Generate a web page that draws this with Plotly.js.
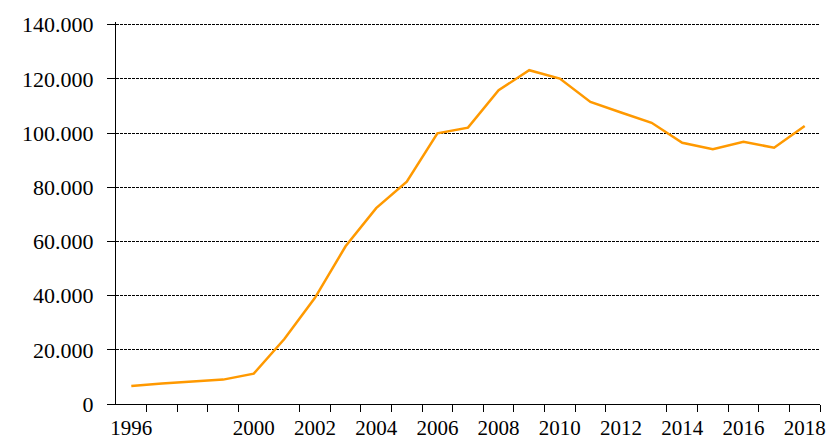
<!DOCTYPE html>
<html>
<head>
<meta charset="utf-8">
<script src="https://cdn.plot.ly/plotly-3.0.1.min.js"></script>
<style>html,body{margin:0;padding:0;background:#fff;}#chart{width:829px;height:441px;}</style>
</head>
<body>
<div id="chart"></div>
<script>
var years = [1996,1997,1998,1999,2000,2001,2002,2003,2004,2005,2006,2007,2008,2009,2010,2011,2012,2013,2014,2015,2016,2017,2018];
var values = [6600,7600,8300,9000,11200,24000,39200,58200,72300,82100,99900,102000,115800,123200,120100,111500,107600,103800,96400,94000,96800,94600,102600];
var labelYears = [1996,2000,2002,2004,2006,2008,2010,2012,2014,2016,2018];
var tickMarks = [1996.5,1997.5,1998.5,1999.5,2001.5,2002.5,2003.5,2004.5,2005.5,2006.5,2007.5,2008.5,2009.5,2010.5,2011.5,2013.5,2014.5,2015.5,2016.5,2017.5,2018.5];
var yTicks = [0,20000,40000,60000,80000,100000,120000,140000];

var trace = {
  x: years, y: values, type: 'scatter', mode: 'lines',
  line: {color: '#FF9900', width: 2.5},
  hoverinfo: 'skip'
};
// invisible helper trace so the tick-mark axis is drawn
var helper = {
  x: [1995.5, 2018.5], y: [null, null], xaxis: 'x2', yaxis: 'y',
  type: 'scatter', mode: 'lines', hoverinfo: 'skip', showlegend: false
};

var layout = {
  width: 829, height: 441,
  margin: {l: 116, r: 9, t: 22, b: 36.5},
  paper_bgcolor: '#fff', plot_bgcolor: '#fff',
  separators: ',.',
  showlegend: false,
  font: {family: 'Liberation Serif, Times New Roman, serif', color: '#000', size: 20},
  xaxis: {
    range: [1995.5, 2018.5],
    tickmode: 'array', tickvals: labelYears, ticktext: labelYears.map(String),
    ticks: '', showgrid: false, zeroline: false,
    showline: true, linecolor: '#000', linewidth: 1,
    ticklabelstandoff: 5,
    tickfont: {size: 21}
  },
  xaxis2: {
    overlaying: 'x', anchor: 'y', side: 'bottom',
    range: [1995.5, 2018.5],
    tickmode: 'array', tickvals: tickMarks, showticklabels: false,
    ticks: 'outside', ticklen: 7, tickwidth: 1, tickcolor: '#000',
    showgrid: false, zeroline: false, showline: false
  },
  yaxis: {
    range: [0, 141000],
    tickmode: 'array', tickvals: yTicks, tickformat: ',d',
    ticks: 'outside', ticklen: 8, tickwidth: 1, tickcolor: '#000',
    ticklabelstandoff: 9,
    showgrid: true, gridcolor: '#000', gridwidth: 1, griddash: '3px,1px',
    zeroline: false,
    showline: true, linecolor: '#000', linewidth: 1,
    tickfont: {size: 22}
  }
};

Plotly.newPlot('chart', [trace, helper], layout, {displayModeBar: false, staticPlot: true});
</script>
</body>
</html>
